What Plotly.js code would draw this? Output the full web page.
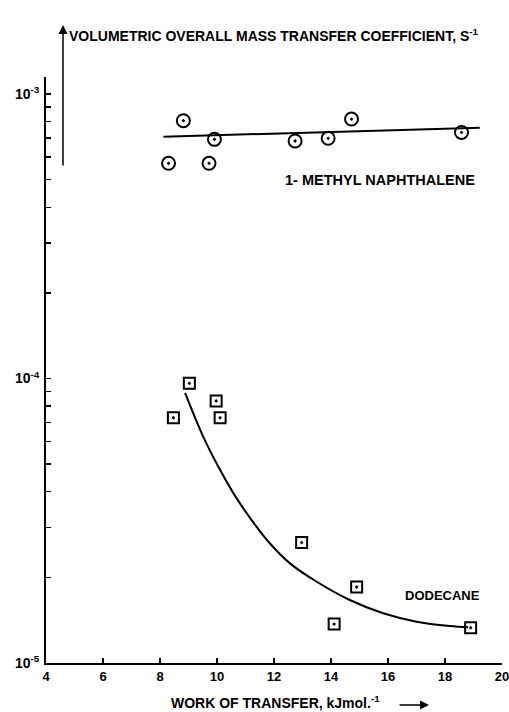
<!DOCTYPE html>
<html>
<head>
<meta charset="utf-8">
<script src="https://cdn.plot.ly/plotly-3.0.1.min.js"></script>
<style>html,body{margin:0;padding:0;background:#fff;}#chart{width:509px;height:712px;}</style>
</head>
<body>
<div id="chart"></div>
<script>
// 1-methyl naphthalene (circles)
const naphX = [8.30, 8.82, 9.91, 9.72, 12.74, 13.90, 14.72, 18.58];
const naphY = [5.71e-4, 8.06e-4, 6.93e-4, 5.71e-4, 6.84e-4, 6.99e-4, 8.17e-4, 7.33e-4];
const naphFitX = [8.12, 19.22];
const naphFitY = [7.08e-4, 7.61e-4];

// Dodecane (squares)
const dodX = [9.03, 8.47, 9.97, 10.11, 12.97, 14.90, 14.11, 18.90];
const dodY = [9.62e-5, 7.28e-5, 8.34e-5, 7.28e-5, 2.65e-5, 1.85e-5, 1.37e-5, 1.33e-5];
const dodFitX = [8.88, 9.52, 10.11, 10.69, 11.39, 11.86, 12.56, 13.50, 14.66, 15.83, 17.00, 18.17, 18.81];
const dodFitY = [8.91e-5, 6.24e-5, 4.77e-5, 3.79e-5, 3.01e-5, 2.63e-5, 2.24e-5, 1.93e-5, 1.665e-5, 1.495e-5, 1.397e-5, 1.349e-5, 1.335e-5];

// Axis ticks
const xTicks = [4, 6, 8, 10, 12, 14, 16, 18, 20];
const yDecades = [1e-5, 1e-4, 1e-3];
const yDecadeLabels = ["10<sup>-5</sup>", "10<sup>-4</sup>", "10<sup>-3</sup>"];
const yMinorMultipliers = [2, 3, 4, 5, 6, 7, 8, 9];

const yTickVals = [], yTickText = [];
yDecades.forEach((d, i) => {
  yTickVals.push(d); yTickText.push(yDecadeLabels[i]);
  if (d < 1e-3) yMinorMultipliers.forEach(m => { yTickVals.push(d * m); yTickText.push(""); });
});

const FONT = "Liberation Sans, Arial, sans-serif";

const traces = [
  {x: naphFitX, y: naphFitY, mode: "lines", line: {color: "#000", width: 2}, hoverinfo: "skip"},
  {x: dodFitX, y: dodFitY, mode: "lines", line: {color: "#000", width: 2, shape: "spline", smoothing: 1}, hoverinfo: "skip"},
  {x: naphX, y: naphY, mode: "markers",
   marker: {symbol: "circle-open-dot", size: 13, color: "#000", line: {color: "#000", width: 2}}},
  {x: dodX, y: dodY, mode: "markers",
   marker: {symbol: "square-open-dot", size: 11, color: "#000", line: {color: "#000", width: 2}}}
];

const layout = {
  width: 509, height: 712,
  margin: {l: 46, r: 7, t: 77, b: 49},
  paper_bgcolor: "#fff", plot_bgcolor: "#fff",
  showlegend: false,
  font: {family: FONT, color: "#000", size: 13},
  xaxis: {
    range: [4, 20], tickvals: xTicks, ticktext: xTicks.map(String),
    ticks: "inside", ticklen: 5, tickwidth: 1.5, tickcolor: "#000",
    showline: true, linecolor: "#000", linewidth: 2, showgrid: false, zeroline: false,
    tickfont: {family: FONT, size: 13, weight: "bold"}, ticklabeloverflow: "allow"
  },
  yaxis: {
    type: "log", range: [-5, -2.94],
    tickvals: yTickVals, ticktext: yTickText,
    ticks: "inside", ticklen: 5, tickwidth: 1.5, tickcolor: "#000",
    showline: true, linecolor: "#000", linewidth: 2, showgrid: false, zeroline: false,
    tickfont: {family: FONT, size: 14, weight: "bold"}, ticklabelstandoff: 2
  },
  annotations: [
    {xref: "paper", yref: "paper", x: (67 - 46) / 456, y: (663 - 35) / 586, xanchor: "left", yanchor: "middle",
     text: "VOLUMETRIC OVERALL MASS TRANSFER COEFFICIENT, S<sup>-1</sup>", showarrow: false,
     font: {family: FONT, size: 14, weight: "bold"}},
    {xref: "paper", yref: "paper", x: (63 - 46) / 456, y: (663 - 25) / 586, text: "", showarrow: true,
     ax: 0, ay: 142, arrowhead: 2, arrowsize: 1.2, arrowwidth: 1.5, arrowcolor: "#000"},
    {xref: "paper", yref: "paper", x: (275 - 46) / 456, y: (663 - 702) / 586, xanchor: "center", yanchor: "middle",
     text: "WORK OF TRANSFER, kJmol.<sup>-1</sup>", showarrow: false,
     font: {family: FONT, size: 14, weight: "bold"}},
    {xref: "paper", yref: "paper", x: (429 - 46) / 456, y: (663 - 705) / 586, text: "", showarrow: true,
     ax: -31, ay: 0, arrowhead: 2, arrowsize: 1.2, arrowwidth: 1.5, arrowcolor: "#000"},
    {x: 12.31, y: Math.log10(4.99e-4), xanchor: "left", yanchor: "middle", text: "1- METHYL NAPHTHALENE",
     showarrow: false, font: {family: FONT, size: 14.5, weight: "bold"}},
    {x: 19.29, y: -4.761, xanchor: "right", yanchor: "middle", text: "DODECANE",
     showarrow: false, font: {family: FONT, size: 13, weight: "bold"}}
  ]
};

Plotly.newPlot("chart", traces, layout, {staticPlot: true, displayModeBar: false});
</script>
</body>
</html>
